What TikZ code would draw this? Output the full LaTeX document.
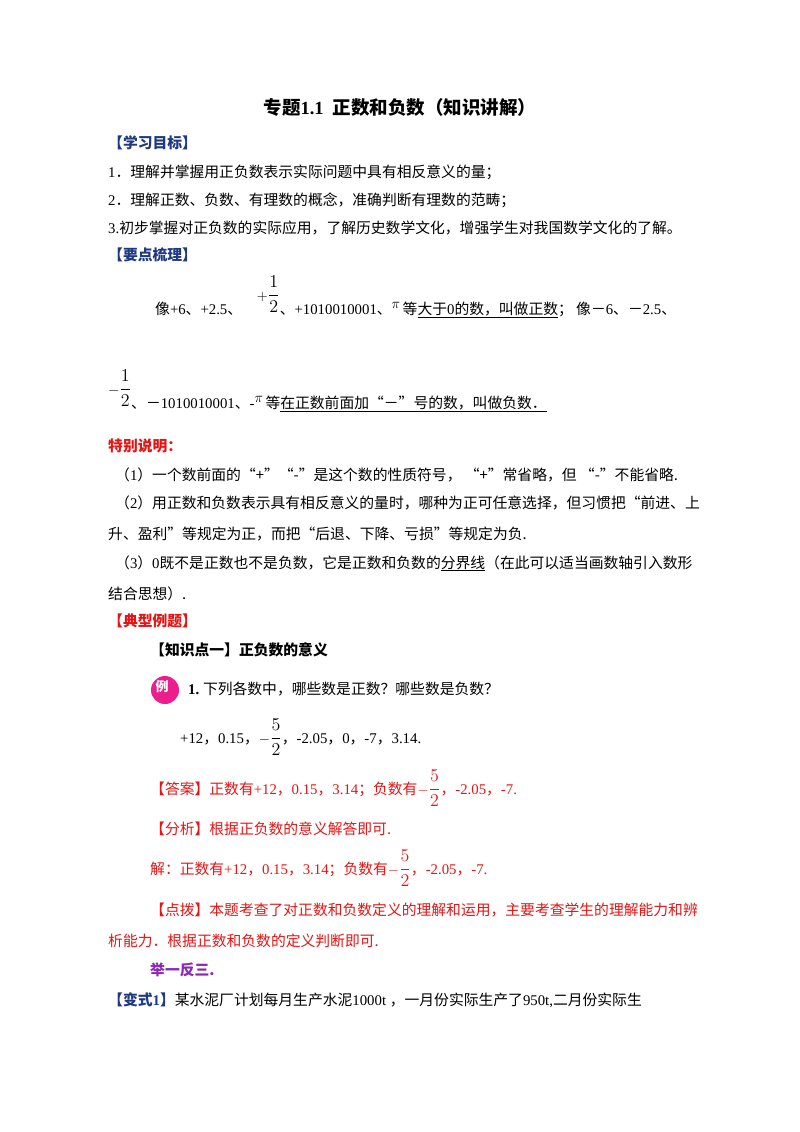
\documentclass[tikz,border=0pt]{standalone}
\usepackage{fontspec}
\setmainfont{Liberation Serif}
\newfontfamily\cjk{Noto Sans CJK SC}
\definecolor{navy}{RGB}{31,56,130}
\definecolor{rd}{RGB}{230,20,20}
\definecolor{pur}{RGB}{140,40,180}
\definecolor{pink}{RGB}{235,30,140}
\tikzset{t/.style={anchor=base west,inner sep=0pt,font=\fontsize{14.8}{16}\selectfont},
 hd/.style={t,font=\fontsize{14.8}{16}\selectfont\bfseries}}
\newcommand{\C}[1]{{\cjk #1}}
\newcommand{\fr}[2]{\scalebox{1.25}{$\displaystyle\frac{#1}{#2}$}}
\begin{document}
\begin{tikzpicture}[x=1pt,y=-1pt]
\useasboundingbox[fill=white] (0,0) rectangle (800,1132);
\node[anchor=base,inner sep=0pt,font=\fontsize{18.5}{20}\selectfont\bfseries] (title) at (400,114) {\C{专题}1.1\ \ \C{正数和负数（知识讲解）}};
\node[hd,text=navy] (h1) at (108,148) {\C{【学习目标】}};
\node[t] (l1) at (108,177) {1\C{．理解并掌握用正负数表示实际问题中具有相反意义的量；}};
\node[t] (l2) at (108,205) {2\C{．理解正数、负数、有理数的概念，准确判断有理数的范畴；}};
\node[t] (l3) at (108,233) {3.\C{初步掌握对正负数的实际应用，了解历史数学文化，增强学生对我国数学文化的了解。}};
\node[hd,text=navy] (h2) at (108,260) {\C{【要点梳理】}};
\node[t] (r1) at (155,314) {\C{像}+6\C{、}+2.5\C{、}\quad\raisebox{14pt}{$+$\fr{1}{2}}\C{、}+1010010001\C{、}\raisebox{6pt}{$\pi$}\,\C{等}\underline{\C{大于}0\C{的数，叫做正数}}\C{；\ 像－}6\C{、－}2.5\C{、}};
\node[t] (r2) at (108,408) {\raisebox{14pt}{$-$\fr{1}{2}}\C{、－}1010010001\C{、}-\raisebox{6pt}{$\pi$}\,\C{等}\underline{\C{在正数前面加“－”号的数，叫做负数．}}};
\node[hd,text=rd] (h3) at (108,451) {\C{特别说明：}};
\node[t] (s1) at (115,480) {\C{（}1\C{）一个数前面的“+”“-”是这个数的性质符号，\ “+”常省略，但\ “-”不能省略.}};
\node[t] (s2) at (115,508) {\C{（}2\C{）用正数和负数表示具有相反意义的量时，哪种为正可任意选择，但习惯把“前进、上}};
\node[t] (s2b) at (108,539) {\C{升、盈利”等规定为正，而把“后退、下降、亏损”等规定为负.}};
\node[t] (s3) at (115,568) {\C{（}3\C{）}0\C{既不是正数也不是负数，它是正数和负数的}\underline{\C{分界线}}\C{（在此可以适当画数轴引入数形}};
\node[t] (s3b) at (108,599) {\C{结合思想）.}};
\node[hd,text=rd] (h4) at (108,626) {\C{【典型例题】}};
\node[hd] (k1) at (150,655) {\C{【知识点一】正负数的意义}};
\fill[pink] (165,690) circle (14);
\node[font=\fontsize{13}{14}\selectfont\bfseries,text=white,inner sep=0pt] (li) at (162,687) {\C{例}};
\node[t] (q1) at (188,694) {\textbf{1.}\ \C{下列各数中，哪些数是正数？哪些数是负数？}};
\node[t] (q2) at (180,743) {+12\C{，}0.15\C{，}$-$\fr{5}{2}\C{，}-2.05\C{，}0\C{，}-7\C{，}3.14.};
\node[t,text=rd] (a1) at (150,794) {\C{【答案】正数有}+12\C{，}0.15\C{，}3.14\C{；负数有}$-$\fr{5}{2}\C{，}-2.05\C{，}-7.};
\node[t,text=rd] (a2) at (150,834) {\C{【分析】根据正负数的意义解答即可.}};
\node[t,text=rd] (a3) at (150,874) {\C{解：正数有}+12\C{，}0.15\C{，}3.14\C{；负数有}$-$\fr{5}{2}\C{，}-2.05\C{，}-7.};
\node[t,text=rd] (a4) at (150,915) {\C{【点拨】本题考查了对正数和负数定义的理解和运用，主要考查学生的理解能力和辨}};
\node[t,text=rd] (a4b) at (108,946) {\C{析能力．根据正数和负数的定义判断即可.}};
\node[hd,text=pur] (h5) at (150,975) {\C{举一反三.}};
\node[t] (v1) at (108,1005) {\textcolor{navy}{\bfseries\C{【变式}1\C{】}}\C{某水泥厂计划每月生产水泥}1000t\ \C{，一月份实际生产了}950t,\C{二月份实际生}};
\end{tikzpicture}
\end{document}
